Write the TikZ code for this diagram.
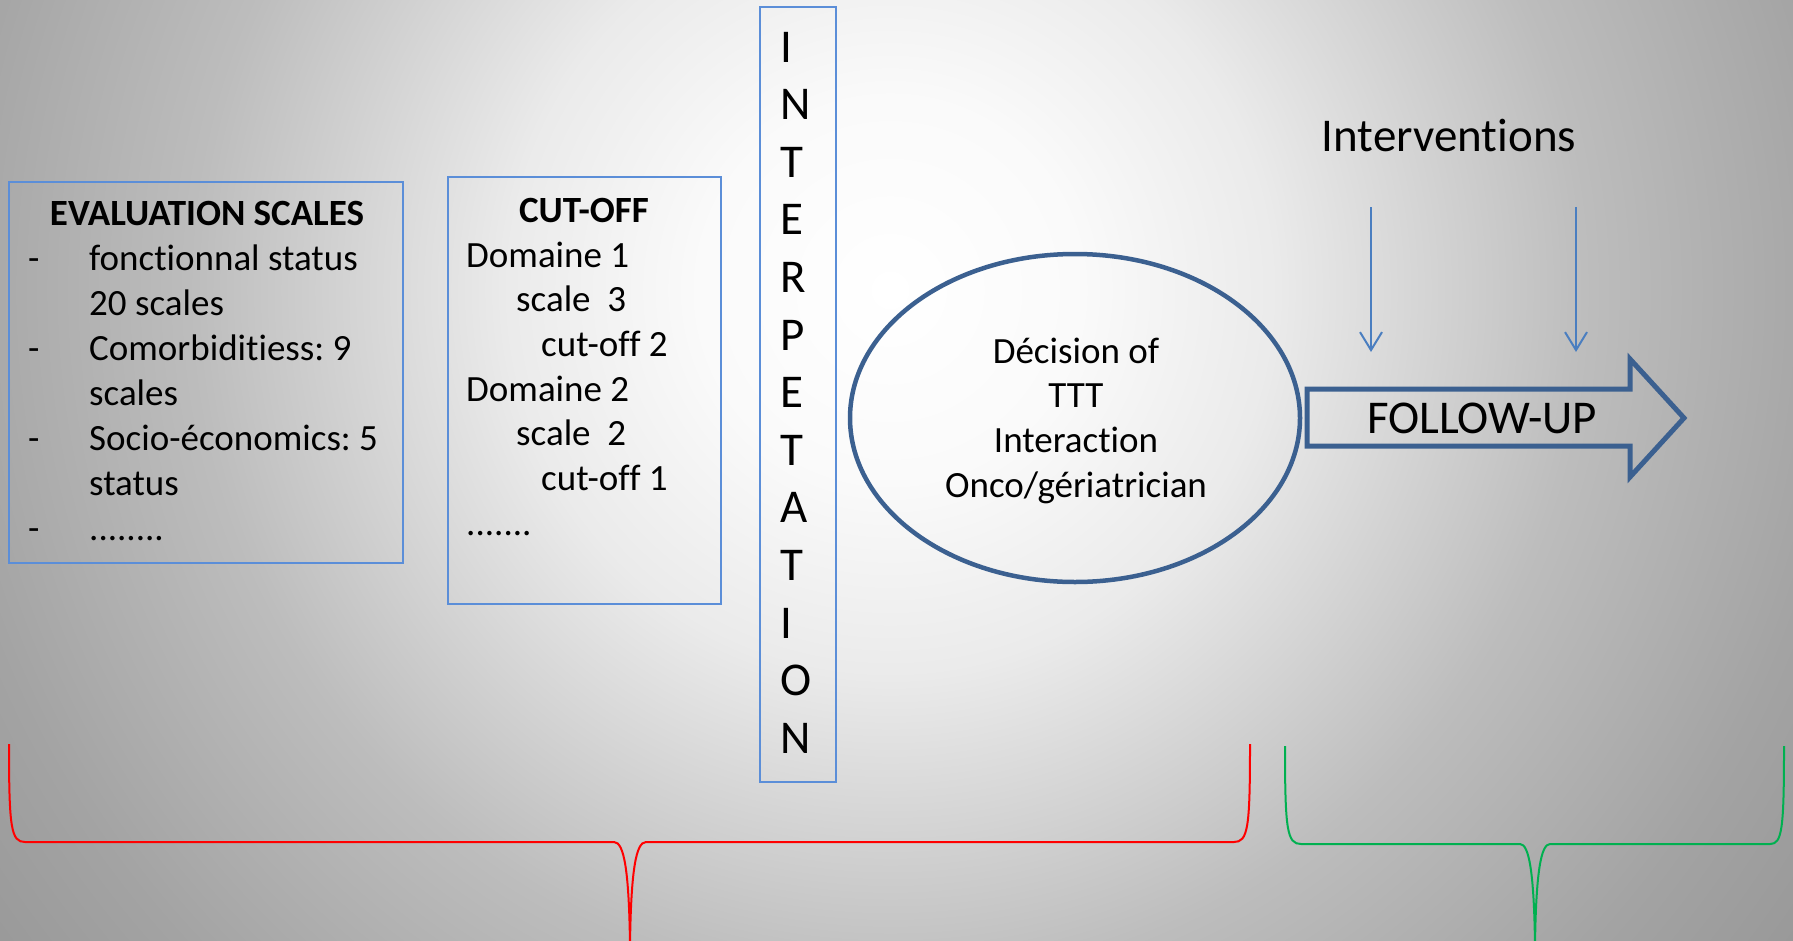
\documentclass[tikz,border=0pt]{standalone}
\usepackage{fontspec}
\setmainfont{Carlito}[Ligatures={NoCommon,NoContextual}]
\usetikzlibrary{arrows.meta,shapes.geometric}
\definecolor{boxblue}{HTML}{5B8ED8}
\definecolor{darkblue}{HTML}{3B6090}
\definecolor{arrblue}{HTML}{4A7EC0}
\definecolor{bracered}{HTML}{FF0000}
\definecolor{bracegreen}{HTML}{00B050}
\pgfdeclareradialshading{bgshade}{\pgfpoint{0bp}{0bp}}{color(0bp)=(white); color(4bp)=(white!98!black); color(8bp)=(white!92!black); color(14.5bp)=(black!26); color(20bp)=(black!36); color(24bp)=(black!41); color(25bp)=(black!41); color(50bp)=(black!41)}
\begin{document}
\frenchspacing
\begin{tikzpicture}[x=1pt,y=-1pt,
  bluebox/.style={draw=boxblue, line width=2pt, inner sep=0pt},
  txt/.style={font=\fontsize{37}{45}\selectfont, inner sep=0pt},
  txtb/.style={font=\fontsize{37}{45}\selectfont\bfseries, inner sep=0pt},
  bigtxt/.style={font=\fontsize{47}{57.6}\selectfont, inner sep=0pt},
  intarrow/.style={draw=arrblue, line width=2pt, -{Straight Barb[length=18pt,width=22pt]}},
  redbrace/.style={draw=bracered, line width=2pt},
  greenbrace/.style={draw=bracegreen, line width=2pt}]
\useasboundingbox (0,0) rectangle (1793,940);
\begin{scope}
  \clip (0,0) rectangle (1793,940);
  \shade[shading=bgshade] (890,290) circle (1200);
\end{scope}

% evaluation box
\node[bluebox, minimum width=394, minimum height=381] (eval) at (206,372.5) {};
\node[txtb, anchor=base] (evalh) at (207,225) {EVALUATION SCALES};
\node[txt, anchor=base west] (evall) at (28,270) {\begin{tabular}[t]{@{}p{61pt}@{}l@{}}
- & fonctionnal status\\
  & 20 scales\\
- & Comorbiditiess: 9\\
  & scales\\
- & Socio-économics: 5\\
  & status\\
- & ........
\end{tabular}};

% cut-off box
\node[bluebox, minimum width=273, minimum height=427] (cut) at (584.5,390.5) {};
\node[txtb, anchor=base] (cuth) at (584,222) {CUT-OFF};
\node[txt, font=\fontsize{37}{44.7}\selectfont, anchor=base west] (cutl) at (466,267) {\begin{tabular}[t]{@{}l@{}}
Domaine 1\\
\hspace{50pt}scale\ \ 3\\
\hspace{75pt}cut-off 2\\
Domaine 2\\
\hspace{50pt}scale\ \ 2\\
\hspace{75pt}cut-off 1\\
.......
\end{tabular}};

% interpretation column
\node[bluebox, minimum width=76, minimum height=775] (interp) at (798,394.5) {};
\node[bigtxt, anchor=base west] (interpt) at (780,62) {\begin{tabular}[t]{@{}l@{}}
I\\N\\T\\E\\R\\P\\E\\T\\A\\T\\I\\O\\N
\end{tabular}};

% decision ellipse
\node[draw=darkblue, line width=4.5pt, ellipse, minimum width=450, minimum height=328, inner sep=0pt] (dec) at (1075,418) {};
\node[txt, font=\fontsize{37}{44.7}\selectfont, anchor=base] (dect) at (1076,363) {\begin{tabular}[t]{@{}c@{}}
Décision of\\TTT\\Interaction\\Onco/gériatrician
\end{tabular}};

% follow-up arrow
\draw[darkblue, line width=5pt, line join=miter, miter limit=10]
  (1307,389) -- (1630,389) -- (1630,359) -- (1684,418) -- (1630,477) -- (1630,446) -- (1307,446) -- cycle;
\node[bigtxt, anchor=base] (fu) at (1482,433) {FOLLOW-UP};

% interventions
\node[bigtxt, anchor=base] (interv) at (1449,151) {Interventions};
\coordinate (ia1) at (1371,207);
\coordinate (ib1) at (1371,352);
\coordinate (ia2) at (1576,207);
\coordinate (ib2) at (1576,352);
\draw[intarrow] (ia1) -- (ib1);
\draw[intarrow] (ia2) -- (ib2);

% braces
\begin{scope}
  \clip (0,0) rectangle (1793,940);
  \draw[redbrace] (9,744) .. controls (9,828) and (11,842) .. (25,842) -- (614,842)
     .. controls (624,842) and (629,870) .. (630,945);
  \draw[redbrace] (630,945) .. controls (631,870) and (636,842) .. (646,842) -- (1234,842)
     .. controls (1248,842) and (1250,828) .. (1250,744);
  \draw[greenbrace] (1285,746) .. controls (1285,830) and (1287,844) .. (1301,844) -- (1520,844)
     .. controls (1529,844) and (1534,872) .. (1535,945);
  \draw[greenbrace] (1535,945) .. controls (1536,872) and (1541,844) .. (1550,844) -- (1770,844)
     .. controls (1782,844) and (1784,830) .. (1784,746);
\end{scope}
\end{tikzpicture}
\end{document}
